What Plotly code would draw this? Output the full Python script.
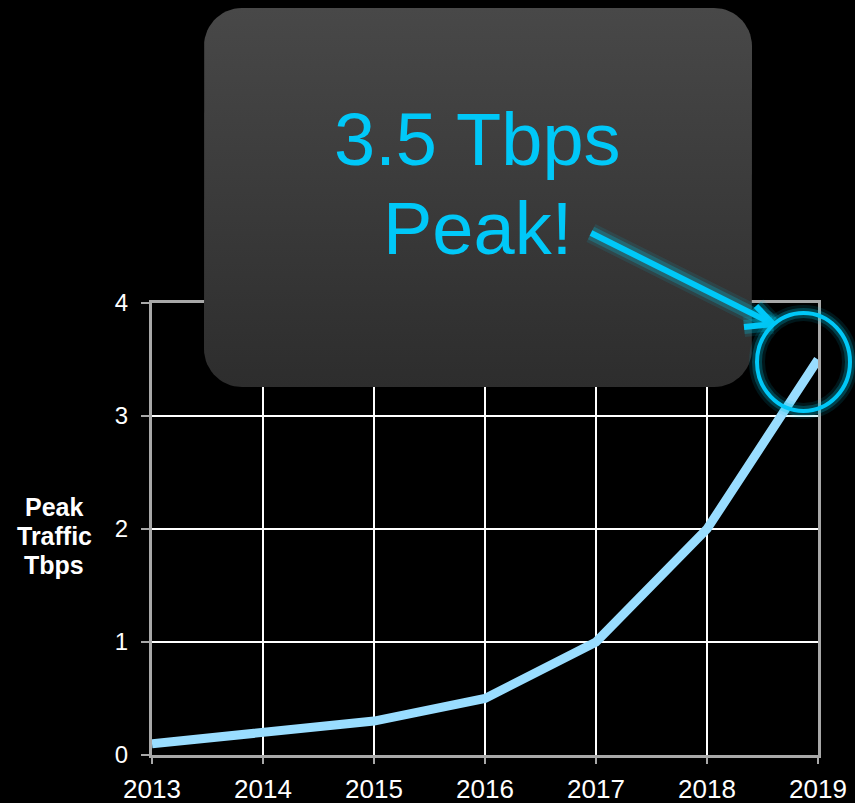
import numpy as np
import plotly.graph_objects as go

# ---- data ----
years = [2013, 2014, 2015, 2016, 2017, 2018, 2019]
traffic_tbps = [0.1, 0.2, 0.3, 0.5, 1.0, 2.0, 3.5]
year_labels = [str(y) for y in years]
y_ticks = [0, 1, 2, 3, 4]
y_title_lines = ["Peak", "Traffic", "Tbps"]
callout_line1 = "3.5 Tbps"
callout_line2 = "Peak!"

W, H = 855, 803
FONT = "Liberation Sans, Arial, sans-serif"
CYAN = "#00C8F8"

fig = go.Figure()

# main data line
fig.add_trace(go.Scatter(
    x=years, y=traffic_tbps, mode="lines",
    line=dict(color="#99DDFF", width=9),
    xaxis="x", yaxis="y", hoverinfo="skip", showlegend=False))

# rounded callout box (pixel overlay subplot)
def rounded_rect(x0, y0, x1, y1, r, n=16):
    pts = []
    corners = [(x1 - r, y0 + r, -90, 0), (x1 - r, y1 - r, 0, 90),
               (x0 + r, y1 - r, 90, 180), (x0 + r, y0 + r, 180, 270)]
    for cx, cy, a0, a1 in corners:
        for a in np.linspace(np.radians(a0), np.radians(a1), n):
            pts.append((cx + r * np.cos(a), cy + r * np.sin(a)))
    pts.append(pts[0])
    return [p[0] for p in pts], [p[1] for p in pts]

bx, by = rounded_rect(204, 8, 752, 387, 38)
fig.add_trace(go.Scatter(
    x=bx, y=by, mode="lines", fill="toself",
    fillgradient=dict(type="vertical", start=8, stop=387,
                      colorscale=[[0, "#484848"], [1, "#2d2d2d"]]),
    line=dict(width=0, color="rgba(0,0,0,0)"),
    xaxis="x2", yaxis="y2", hoverinfo="skip", showlegend=False))

shapes = []
# glowing arrow
segs = [((591, 233), (773, 324)), ((773, 324), (744, 327)), ((773, 324), (756, 306))]
for w, col in [(20, "rgba(0,190,220,0.12)"), (14, "rgba(0,200,230,0.25)"), (6, CYAN)]:
    for (xa, ya), (xb, yb) in segs:
        shapes.append(dict(type="line", xref="x2", yref="y2",
                           x0=xa, y0=ya, x1=xb, y1=yb,
                           line=dict(color=col, width=w), layer="above"))
# glowing circle
for w, col in [(16, "rgba(0,190,220,0.12)"), (10, "rgba(0,200,230,0.25)"), (4, CYAN)]:
    shapes.append(dict(type="circle", xref="x2", yref="y2",
                       x0=757, x1=850, y0=313, y1=411,
                       line=dict(color=col, width=w), layer="above"))

annotations = [
    dict(text=callout_line1, x=477, y=139, xref="x2", yref="y2",
         showarrow=False, font=dict(family=FONT, size=74, color=CYAN)),
    dict(text=callout_line2, x=477, y=228, xref="x2", yref="y2",
         showarrow=False, font=dict(family=FONT, size=74, color=CYAN)),
]
for i, t in enumerate(y_title_lines):
    annotations.append(dict(
        text="<b>" + t + "</b>", x=54, y=507 + 29 * i, xref="x2", yref="y2",
        showarrow=False, font=dict(family=FONT, size=25, color="white")))

axis_common = dict(
    showgrid=True, gridcolor="white", gridwidth=1.5,
    showline=True, linecolor="#a8a8a8", linewidth=3, mirror=True,
    ticks="outside", tickwidth=2, tickcolor="#a8a8a8",
    zeroline=False, fixedrange=True, automargin=False,
)

fig.update_layout(
    width=W, height=H,
    margin=dict(l=0, r=0, t=0, b=0, pad=0, autoexpand=False),
    paper_bgcolor="black", plot_bgcolor="rgba(0,0,0,0)",
    showlegend=False,
    font=dict(family=FONT, color="white"),
    xaxis=dict(domain=[152 / W, 818 / W], range=[2013, 2019],
               tickvals=years, ticktext=year_labels, ticklen=6,
               tickfont=dict(size=26, color="white"),
               ticklabelstandoff=3, anchor="y", **axis_common),
    yaxis=dict(domain=[1 - 755 / H, 1 - 303 / H], range=[0, 4],
               tickvals=y_ticks, ticklen=8,
               tickfont=dict(size=24, color="white"),
               ticklabelstandoff=8, anchor="x", **axis_common),
    xaxis2=dict(domain=[0, 1], range=[0, W], visible=False, anchor="y2",
                fixedrange=True, automargin=False),
    yaxis2=dict(domain=[0, 1], range=[H, 0], visible=False, anchor="x2",
                fixedrange=True, automargin=False),
    shapes=shapes,
    annotations=annotations,
)

fig.write_html(
    "out.html",
    config={"displayModeBar": False},
    post_script="document.body.style.margin='0';"
                "document.body.style.background='black';",
)
